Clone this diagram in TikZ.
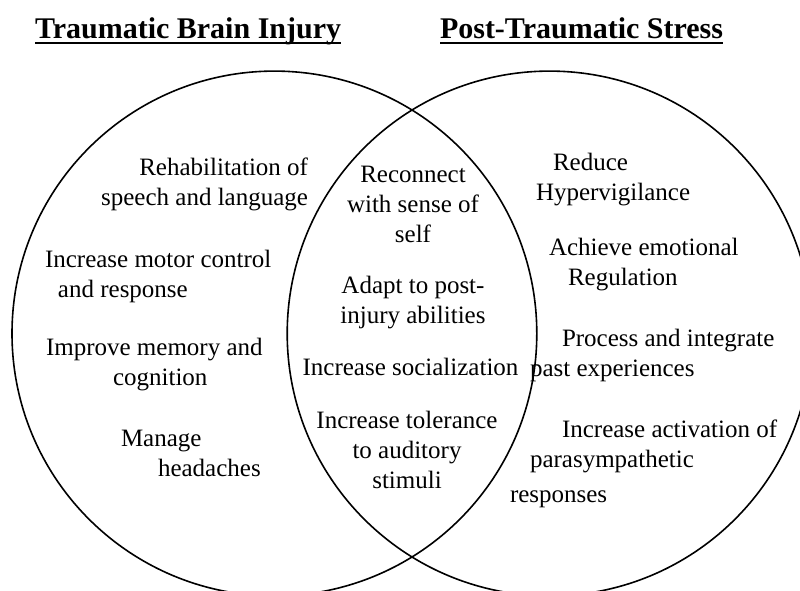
\documentclass[tikz,border=0pt]{standalone}
\usepackage{fontspec}
\setmainfont{Liberation Serif}

\begin{document}
\begin{tikzpicture}[x=1pt,y=-1pt]
\tikzset{every node/.style={inner sep=0pt,outer sep=0pt}}
\tikzset{venn/.style={draw,circle,line width=1.6pt,minimum size=524.8pt}}
\tikzset{heading/.style={anchor=base west,font=\fontsize{30}{36}\selectfont\bfseries}}
\tikzset{uline/.style={line width=1.6pt}}
\tikzset{goal/.style={font=\fontsize{25}{30}\selectfont}}

\useasboundingbox (0,0) rectangle (800,591);

\node[venn] (tbi) at (274.4,333.5) {};
\node[venn] (pts) at (549.6,333.5) {};

\node[heading] (tbititle) at (35,39) {Traumatic Brain Injury};
\node[heading] (ptstitle) at (440,39) {Post-Traumatic Stress};
\draw[uline] ([yshift=-4pt]tbititle.base west) -- ([yshift=-4pt]tbititle.base east);
\draw[uline] ([yshift=-4pt]ptstitle.base west) -- ([yshift=-4pt]ptstitle.base east);

\node[goal,anchor=north east,align=right] (speech) at (308,158) {Rehabilitation of\\speech and language};
\node[goal,anchor=north west,align=left] (motor) at (45,250) {Increase motor control\\\hspace*{13pt}and response};
\node[goal,anchor=north west,align=left] (memory) at (46,338) {Improve memory and\\\hspace*{67pt}cognition};
\node[goal,anchor=north west,align=left] (headache) at (121,430) {Manage\\\hspace*{37pt}headaches};

\node[goal,anchor=north,align=center] (self) at (413,166) {Reconnect\\with sense of\\self};
\node[goal,anchor=north,align=center] (adapt) at (413,276) {Adapt to post-\\injury abilities};
\node[goal,anchor=north,align=center] (social) at (410.5,358) {Increase socialization};
\node[goal,anchor=north,align=center] (auditory) at (407,411) {Increase tolerance\\to auditory\\stimuli};

\node[goal,anchor=north west,align=left] (hyper) at (536,153) {\hspace*{17pt}Reduce\\Hypervigilance};
\node[goal,anchor=north west,align=left] (emotion) at (549,238) {Achieve emotional\\\hspace*{19pt}Regulation};
\node[goal,anchor=north west,align=left] (process) at (530,329) {\hspace*{32pt}Process and integrate\\past experiences};
\node[goal,anchor=north west,align=left] (parasym) at (510,420) {\hspace*{52pt}Increase activation of\\\hspace*{20pt}parasympathetic\\[5pt]responses};

\end{tikzpicture}
\end{document}
